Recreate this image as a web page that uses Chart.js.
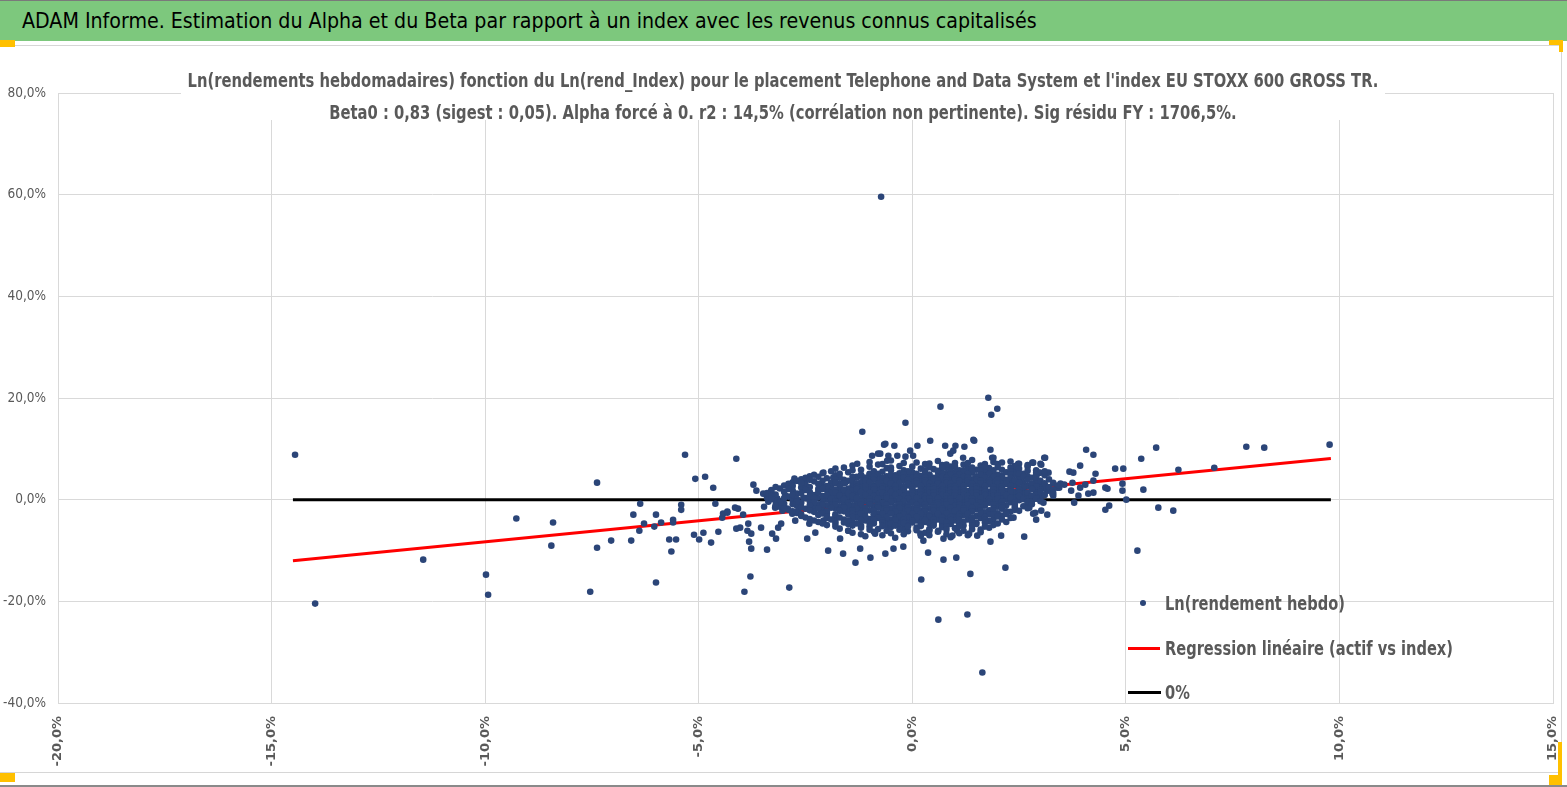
<!DOCTYPE html>
<html>
<head>
<meta charset="utf-8">
<script src="https://cdn.jsdelivr.net/npm/chart.js@4.4.1/dist/chart.umd.min.js"></script>
<style>
  html, body { margin:0; padding:0; background:#ffffff; width:1567px; height:787px; overflow:hidden; }
  body { position:relative; font-family:'DejaVu Sans Condensed','Liberation Sans Narrow','Liberation Sans',sans-serif; }
  #header { position:absolute; left:0; top:0; width:1567px; height:40px; background:#7DC87D; border-top:1px solid #7a7a7a; z-index:3; }
  #header span { position:absolute; left:22px; top:7px; font-size:21.2px; color:#000; white-space:nowrap; }
  #frame { position:absolute; left:0; top:45px; width:1561px; height:726px; border-top:1px solid #d6d6d6; border-right:1px solid #d6d6d6; border-bottom:1px solid #d6d6d6; z-index:0; }
  #bottomline { position:absolute; left:0; top:785px; width:1567px; height:2px; background:#8a8a8a; }
  .handle { position:absolute; background:#FFC000; z-index:4; }
  #chartTitle { position:absolute; left:181px; top:64px; width:1204px; height:56px; background:#fff; z-index:2; color:#595959; font-size:19px; font-weight:bold; line-height:32px; white-space:nowrap; }
  #chartTitle div { position:absolute; left:-100px; width:1404px; height:32px; text-align:center; transform:scaleX(0.863); transform-origin:center; }
  #c { position:absolute; left:0; top:0; z-index:1; }
  .lg { position:absolute; z-index:2; color:#595959; font-size:19px; font-weight:bold; white-space:nowrap; line-height:24px; transform:scaleX(0.855); transform-origin:left center; }
  .lgline { position:absolute; z-index:2; height:3px; }
  .lgdot { position:absolute; z-index:2; width:6px; height:6px; border-radius:50%; background:#2B4578; }
</style>
</head>
<body>
<div id="header"><span>ADAM Informe. Estimation du Alpha et du Beta par rapport à un index avec les revenus connus capitalisés</span></div>
<div id="frame"></div>
<div id="bottomline"></div>
<div class="handle" style="left:0;top:40px;width:15px;height:7px;"></div>
<div class="handle" style="left:1549px;top:40px;width:14px;height:5px;"></div>
<div class="handle" style="left:1559px;top:40px;width:4px;height:12px;"></div>
<div class="handle" style="left:0;top:773px;width:15px;height:9px;"></div>
<div class="handle" style="left:1558px;top:742px;width:4px;height:43px;"></div>
<div class="handle" style="left:1549px;top:775px;width:13px;height:10px;"></div>
<canvas id="c" width="1567" height="787"></canvas>
<div id="chartTitle">
  <div style="top:0;">Ln(rendements hebdomadaires) fonction du Ln(rend_Index) pour le placement Telephone and Data System et l'index EU STOXX 600 GROSS TR.</div>
  <div style="top:32px;">Beta0 : 0,83 (sigest : 0,05). Alpha forcé à 0. r2 : 14,5% (corrélation non pertinente). Sig résidu FY : 1706,5%.</div>
</div>
<div class="lgdot" style="left:1140px;top:600px;"></div>
<div class="lg" style="left:1165px;top:591px;">Ln(rendement hebdo)</div>
<div class="lgline" style="left:1128px;top:647px;width:32px;background:#FF0000;"></div>
<div class="lg" style="left:1165px;top:636px;">Regression linéaire (actif vs index)</div>
<div class="lgline" style="left:1128px;top:691px;width:33px;background:#000000;"></div>
<div class="lg" style="left:1165px;top:680px;">0%</div>
<script>
// Tick values (percent)
const xTicks = [-20, -15, -10, -5, 0, 5, 10, 15];
const yTicks = [-40, -20, 0, 20, 40, 60, 80];

// Series labels
const seriesNames = ['Ln(rendement hebdo)', 'Regression linéaire (actif vs index)', '0%'];

// Regression line endpoints (index %, asset %)
const regressionLine = [[-14.5, -12.0], [9.8, 8.1]];
// Zero line endpoints
const zeroLine = [[-14.5, 0], [9.8, 0]];

// Weekly log returns [index %, asset %] – scattered points
const outerPoints = [
[-14.45,8.85],[-13.98,-20.45],[-11.45,-11.8],[-9.98,-14.75],[-9.93,-18.7],[-9.27,-3.7],[-8.41,-4.5],[-8.45,-9.05],
[-7.54,-18.1],[-7.38,3.35],[-7.38,-9.45],[-7.05,-8.05],[-6.58,-8.05],[-6.53,-2.95],[-6.37,-0.8],[-6.39,-6.1],
[-6.28,-4.7],[-6.0,-2.95],[-6.04,-5.3],[-6.0,-16.3],[-5.88,-4.5],[-5.69,-7.85],[-5.64,-10.2],[-5.6,-3.95],
[-5.6,-4.5],[-5.53,-7.85],[-5.41,-1.0],[-5.41,-2.0],[-5.32,8.85],[-5.08,4.1],[-4.85,4.5],[-4.66,2.35],
[-4.61,-0.8],[-5.11,-6.9],[-4.99,-7.85],[-4.89,-6.5],[-4.71,-8.45],[-4.54,-6.3],[-4.45,-3.55],[-4.43,-2.75],
[-4.33,-2.55],[-4.12,8.06],[-4.33,-2.36],[-4.15,-1.57],[-4.08,-1.77],[-3.96,-2.95],[-4.12,-5.7],[-4.03,-5.5],
[-3.86,-6.1],[-3.84,-4.72],[-3.77,-6.69],[-3.82,-8.26],[-3.77,-9.64],[-3.72,2.95],[-3.65,1.77],[-3.54,-5.5],
[-3.49,1.18],[-3.47,-1.38],[-3.4,-9.83],[-3.37,-0.39],[-3.28,-6.69],[-3.21,-1.57],[-3.19,-7.67],[-3.16,0.2],
[-3.14,-5.5],[-3.07,-4.72],[-3.04,-2.16],[-2.97,0.79],[-2.93,-1.77],[-2.81,-2.75],[-2.76,4.13],[-2.74,-4.13],
[-2.69,-0.59],[-2.67,-2.16],[-2.58,2.75],[-2.55,0.39],[-2.53,3.54],[-2.46,-7.67],[-2.41,-4.72],[-2.32,-1.57],
[-2.27,-6.49],[-2.22,0.39],[-2.15,-2.16],[-2.08,5.31],[-2.08,-4.13],[-1.97,-10.03],[-1.92,0.39],[-1.85,4.33],
[-1.8,-4.72],[-1.69,-7.67],[-1.62,-10.62],[-1.57,3.34],[-1.5,-6.1],[-1.38,1.77],[-1.33,-12.39],[-1.29,7.08],
[-1.22,-9.64],[-1.17,13.37],[-1.15,4.33],[-0.98,-11.41],[-0.94,8.65],[-0.87,-6.69],[-0.8,9.05],[-0.66,10.82],
[-0.63,-10.62],[-0.59,7.67],[-0.44,-9.64],[-0.42,10.62],[-0.35,8.65],[-0.21,-9.24],[-0.16,8.46],[-0.16,15.14],
[-0.05,9.64],[0.02,8.65],[0.12,10.62],[0.19,-6.69],[0.26,-8.06],[0.37,-10.42],[0.42,11.6],[0.61,-6.1],
[0.73,-7.67],[0.73,-11.8],[0.77,10.62],[0.89,9.05],[0.94,-7.08],[1.01,10.62],[1.03,-11.41],[1.05,-6.1],
[1.19,8.26],[1.33,-6.69],[1.43,11.8],[1.52,-7.08],[1.83,9.83],[1.83,-8.26],[1.87,8.26],[2.08,-7.08],
[2.18,-13.37],[2.37,-3.54],[2.48,7.08],[2.62,-7.28],[2.81,7.28],[2.88,-2.56],[2.93,5.11],
[-0.73,59.6],[1.78,20.06],[1.85,16.7],[1.99,17.9],[0.66,18.3],[0.61,-23.6],[1.29,-22.6],[1.64,-34.0],
[0.21,-15.7],[1.36,-14.6],[-2.88,-17.3],[-3.93,-18.1],[-3.79,-15.1],
[1.45,11.6],[3.09,8.26],[3.0,7.08],[2.5,7.08],[2.39,5.9],[1.9,8.26],[1.22,10.4],[0.96,9.64],[-0.63,11.0],
[-0.75,9.05],[-0.56,8.65],
[4.07,9.83],[4.24,8.85],[3.93,6.69],[3.68,5.51],[3.77,5.31],[4.29,5.11],[4.75,6.1],[4.94,6.1],[5.36,8.06],
[5.71,10.23],[6.23,5.9],[7.07,6.29],[7.82,10.42],[8.24,10.23],[9.77,10.82],[5.41,1.97],[5.76,-1.57],[6.11,-2.16],
[5.27,-10.03],[5.01,0.0],[4.92,1.77],[4.92,3.15],[4.52,2.36],[4.57,2.16],[4.61,-1.18],[4.52,-1.97],[4.24,3.74],
[4.24,1.38],[4.12,1.18],[4.05,2.95],[3.93,2.36],[3.89,0.79],[3.79,-0.59],[3.75,3.34],[3.72,1.77],[3.56,2.95],
[3.47,3.15],[3.4,2.36],[3.3,0.79],[3.16,-2.95],[3.19,5.31],[3.11,8.26],[3.02,6.88],[2.97,5.31],[2.9,5.31],
[2.83,7.28],[3.02,-2.16],[2.9,-3.93],[2.83,-2.75],[2.74,-1.57],[3.07,-0.59],[3.16,1.77],[3.28,1.18],[3.44,2.36],
[2.83,2.16]
];

// Dense central cloud of weekly returns [index %, asset %] (first layer)
const corePointsA = [
[-1.0,7.4],[-0.5,7.7],[0.1,7.3],[0.6,7.6],[1.0,7.2],[1.4,7.8],[1.9,7.4],[2.3,7.5],
[-1.4,6.7],[-0.8,6.9],[-0.3,6.6],[0.3,7.0],[0.7,6.8],[0.9,6.5],[1.2,6.9],[1.6,6.7],[2.0,7.0],[2.4,6.6],[2.7,6.8],
[-1.8,6.1],[-1.2,5.9],[-0.6,6.2],[-0.2,5.8],[0.2,6.1],[0.5,6.0],[0.8,6.3],[1.1,5.8],[1.3,6.1],[1.5,5.9],[1.8,6.2],[2.1,5.9],[2.5,6.1],[2.9,5.8],
[-2.1,5.2],[-1.5,5.4],[-1.0,5.1],[-0.7,5.5],[-0.3,5.2],[0.0,5.4],[0.3,5.1],[0.6,5.5],[0.8,5.2],[1.0,5.4],[1.2,5.1],[1.4,5.3],[1.7,5.5],[1.9,5.2],[2.2,5.4],[2.6,5.1],[3.0,5.3],
[-2.4,4.6],[-1.8,4.8],[-1.3,4.5],[-1.0,4.9],[-0.6,4.6],[-0.4,4.8],[-0.1,4.5],[0.2,4.7],[0.4,4.9],[0.6,4.6],[0.8,4.8],[1.0,4.5],[1.1,4.9],[1.3,4.7],[1.5,4.6],[1.7,4.8],[1.9,4.5],[2.1,4.7],[2.4,4.9],[2.7,4.6],[3.1,4.8],
[-2.6,4.0],[-2.0,4.2],[-1.6,3.9],[-1.3,4.3],[-1.0,4.0],[-0.8,4.2],[-0.5,3.9],[-0.3,4.1],[0.0,4.3],[0.2,4.0],[0.4,4.2],[0.6,3.9],[0.7,4.3],[0.9,4.1],[1.1,3.9],[1.2,4.2],[1.4,4.0],[1.6,4.3],[1.8,4.0],[2.0,4.2],[2.2,3.9],[2.5,4.1],[2.8,4.3],[3.2,4.0],
[-2.8,3.4],[-2.3,3.6],[-1.9,3.3],[-1.5,3.7],[-1.2,3.4],[-1.0,3.6],[-0.7,3.3],[-0.5,3.5],[-0.2,3.7],[0.0,3.4],[0.2,3.6],[0.4,3.3],[0.5,3.7],[0.7,3.5],[0.9,3.4],[1.0,3.6],[1.2,3.3],[1.4,3.7],[1.5,3.4],[1.7,3.6],[1.9,3.3],[2.1,3.5],[2.3,3.7],[2.6,3.4],[2.9,3.6],[3.3,3.3],
[-3.0,2.8],[-2.5,3.0],[-2.1,2.7],[-1.7,3.1],[-1.4,2.8],[-1.1,3.0],[-0.9,2.7],[-0.6,2.9],[-0.4,3.1],[-0.1,2.8],[0.1,3.0],[0.3,2.7],[0.5,3.1],[0.6,2.9],[0.8,2.8],[1.0,3.0],[1.1,2.7],[1.3,3.1],[1.5,2.9],[1.6,2.7],[1.8,3.0],[2.0,2.8],[2.2,3.1],[2.4,2.9],[2.7,2.7],[3.0,3.0],[3.4,2.8],
[-3.1,2.2],[-2.6,2.4],[-2.2,2.1],[-1.9,2.5],[-1.5,2.2],[-1.2,2.4],[-1.0,2.1],[-0.8,2.3],[-0.5,2.5],[-0.3,2.2],[0.0,2.4],[0.2,2.1],[0.4,2.5],[0.6,2.3],[0.7,2.1],[0.9,2.4],[1.1,2.2],[1.2,2.5],[1.4,2.3],[1.6,2.1],[1.7,2.4],[1.9,2.2],[2.1,2.5],[2.3,2.3],[2.5,2.1],[2.8,2.4],[3.1,2.2],
[-3.3,1.6],[-2.8,1.8],[-2.4,1.5],[-2.0,1.9],[-1.7,1.6],[-1.4,1.8],[-1.1,1.5],[-0.9,1.7],[-0.6,1.9],[-0.4,1.6],[-0.2,1.8],[0.1,1.5],[0.3,1.9],[0.5,1.7],[0.6,1.5],[0.8,1.8],[1.0,1.6],[1.1,1.9],[1.3,1.7],[1.5,1.5],[1.6,1.8],[1.8,1.6],[2.0,1.9],[2.2,1.7],[2.4,1.5],[2.6,1.8],[2.9,1.6],[3.2,1.8],
[-3.2,1.0],[-2.7,1.2],[-2.3,0.9],[-1.9,1.3],[-1.6,1.0],[-1.3,1.2],[-1.0,0.9],[-0.8,1.1],[-0.5,1.3],[-0.3,1.0],[-0.1,1.2],[0.1,0.9],[0.3,1.3],[0.4,1.1],[0.6,0.9],[0.8,1.2],[0.9,1.0],[1.1,1.3],[1.3,1.1],[1.4,0.9],[1.6,1.2],[1.8,1.0],[2.0,1.3],[2.1,1.1],[2.3,0.9],[2.6,1.2],[2.9,1.0],
[-3.4,0.4],[-2.9,0.6],[-2.5,0.3],[-2.1,0.7],[-1.8,0.4],[-1.5,0.6],[-1.2,0.3],[-0.9,0.5],[-0.7,0.7],[-0.5,0.4],[-0.2,0.6],[0.0,0.3],[0.2,0.7],[0.4,0.5],[0.5,0.3],[0.7,0.6],[0.9,0.4],[1.0,0.7],[1.2,0.5],[1.4,0.3],[1.5,0.6],[1.7,0.4],[1.9,0.7],[2.1,0.5],[2.4,0.3],[2.7,0.6],[3.0,0.4],
[-3.2,-0.2],[-2.8,0.0],[-2.4,-0.3],[-2.0,0.1],[-1.7,-0.2],[-1.4,0.0],[-1.1,-0.3],[-0.9,-0.1],[-0.6,0.1],[-0.4,-0.2],[-0.1,0.0],[0.1,-0.3],[0.3,0.1],[0.5,-0.1],[0.7,-0.3],[0.8,0.0],[1.0,-0.2],[1.2,0.1],[1.3,-0.1],[1.5,-0.3],[1.7,0.0],[1.9,-0.2],[2.2,0.1],[2.5,-0.1],[2.8,-0.3],
[-3.0,-0.8],[-2.6,-0.6],[-2.2,-0.9],[-1.9,-0.5],[-1.6,-0.8],[-1.3,-0.6],[-1.0,-0.9],[-0.8,-0.7],[-0.5,-0.5],[-0.3,-0.8],[0.0,-0.6],[0.2,-0.9],[0.4,-0.5],[0.5,-0.7],[0.7,-0.9],[0.9,-0.6],[1.1,-0.8],[1.2,-0.5],[1.4,-0.7],[1.6,-0.9],[1.8,-0.6],[2.0,-0.8],[2.3,-0.5],[2.7,-0.7],
[-3.1,-1.4],[-2.7,-1.2],[-2.3,-1.5],[-2.0,-1.1],[-1.7,-1.4],[-1.4,-1.2],[-1.2,-1.5],[-0.9,-1.3],[-0.7,-1.1],[-0.4,-1.4],[-0.2,-1.2],[0.1,-1.5],[0.3,-1.1],[0.5,-1.3],[0.6,-1.5],[0.8,-1.2],[1.0,-1.4],[1.2,-1.1],[1.3,-1.3],[1.5,-1.5],[1.7,-1.2],[2.0,-1.4],[2.2,-1.1],[2.6,-1.3],
[-2.9,-2.0],[-2.5,-1.8],[-2.1,-2.1],[-1.8,-1.7],[-1.5,-2.0],[-1.2,-1.8],[-1.0,-2.1],[-0.7,-1.9],[-0.5,-1.7],[-0.2,-2.0],[0.0,-1.8],[0.2,-2.1],[0.4,-1.7],[0.6,-1.9],[0.8,-2.1],[0.9,-1.8],[1.1,-2.0],[1.3,-1.7],[1.5,-1.9],[1.8,-2.1],[2.1,-1.8],[2.4,-2.0],
[-2.7,-2.6],[-2.3,-2.4],[-2.0,-2.7],[-1.6,-2.3],[-1.3,-2.6],[-1.1,-2.4],[-0.8,-2.7],[-0.6,-2.5],[-0.3,-2.3],[-0.1,-2.6],[0.1,-2.4],[0.3,-2.7],[0.5,-2.3],[0.7,-2.5],[0.9,-2.7],[1.0,-2.4],[1.2,-2.6],[1.4,-2.3],[1.7,-2.5],[2.0,-2.7],[2.3,-2.4],
[-2.6,-3.2],[-2.2,-3.0],[-1.8,-3.3],[-1.5,-2.9],[-1.2,-3.2],[-0.9,-3.0],[-0.7,-3.3],[-0.4,-3.1],[-0.2,-2.9],[0.0,-3.2],[0.3,-3.0],[0.5,-3.3],[0.6,-2.9],[0.8,-3.1],[1.0,-3.3],[1.2,-3.0],[1.5,-3.2],[1.8,-2.9],[2.1,-3.1],
[-2.4,-3.8],[-2.0,-3.6],[-1.6,-3.9],[-1.3,-3.5],[-1.0,-3.8],[-0.8,-3.6],[-0.5,-3.9],[-0.3,-3.7],[-0.1,-3.5],[0.2,-3.8],[0.4,-3.6],[0.6,-3.9],[0.8,-3.5],[1.0,-3.7],[1.3,-3.9],[1.6,-3.6],[1.9,-3.8],[2.3,-3.6],
[-2.2,-4.4],[-1.8,-4.2],[-1.4,-4.5],[-1.1,-4.1],[-0.9,-4.4],[-0.6,-4.2],[-0.4,-4.5],[-0.1,-4.3],[0.1,-4.1],[0.3,-4.4],[0.5,-4.2],[0.7,-4.5],[1.0,-4.1],[1.2,-4.3],[1.5,-4.5],[1.8,-4.2],[2.2,-4.4],
[-2.0,-5.0],[-1.5,-4.8],[-1.2,-5.1],[-0.9,-4.7],[-0.6,-5.0],[-0.3,-4.8],[-0.1,-5.1],[0.2,-4.9],[0.4,-4.7],[0.7,-5.0],[0.9,-4.8],[1.2,-5.1],[1.5,-4.8],[1.9,-5.0],
[-1.7,-5.7],[-1.2,-5.5],[-0.8,-5.8],[-0.5,-5.4],[-0.2,-5.7],[0.1,-5.5],[0.4,-5.8],[0.7,-5.4],[1.0,-5.6],[1.4,-5.8],[1.8,-5.5],
[-1.4,-6.5],[-0.9,-6.3],[-0.5,-6.6],[-0.1,-6.2],[0.3,-6.5],[0.6,-6.3],[1.1,-6.6],[1.6,-6.4],
[-1.1,-7.2],[-0.4,-7.5],[0.2,-7.1],[0.9,-7.4]
];

// Dense central cloud (second layer, in between the first)
const corePointsB = [
[-0.7,7.0],[-0.2,7.2],[0.4,7.1],[0.8,6.9],[1.3,7.2],[1.7,7.0],[2.1,7.3],
[-1.6,6.3],[-1.0,6.5],[-0.5,6.3],[0.0,6.5],[0.4,6.4],[0.7,6.2],[1.0,6.5],[1.4,6.3],[1.7,6.5],[2.0,6.4],[2.3,6.3],[2.7,6.5],
[-1.9,5.6],[-1.4,5.8],[-0.9,5.6],[-0.5,5.8],[-0.1,5.6],[0.3,5.8],[0.6,5.7],[0.9,5.6],[1.2,5.8],[1.4,5.6],[1.6,5.7],[1.9,5.8],[2.3,5.6],[2.7,5.7],[3.1,5.6],
[-2.3,4.9],[-1.7,5.1],[-1.2,4.9],[-0.8,5.1],[-0.5,4.9],[-0.2,5.0],[0.1,5.1],[0.4,4.9],[0.7,5.1],[0.9,4.9],[1.1,5.0],[1.3,5.1],[1.6,4.9],[1.8,5.1],[2.0,4.9],[2.3,5.0],[2.5,5.1],[2.9,4.9],
[-2.5,4.3],[-2.2,4.5],[-1.7,4.3],[-1.4,4.5],[-1.1,4.3],[-0.9,4.5],[-0.7,4.3],[-0.4,4.4],[-0.2,4.3],[0.1,4.5],[0.3,4.4],[0.5,4.3],[0.7,4.5],[0.8,4.3],[1.0,4.4],[1.2,4.5],[1.3,4.3],[1.5,4.4],[1.7,4.3],[1.9,4.5],[2.1,4.4],[2.3,4.3],[2.6,4.5],[2.9,4.4],
[-2.7,3.7],[-2.4,3.9],[-2.1,3.7],[-1.8,3.9],[-1.4,3.8],[-1.1,3.7],[-0.9,3.9],[-0.6,3.7],[-0.4,3.8],[-0.1,3.9],[0.1,3.7],[0.3,3.8],[0.5,3.9],[0.6,3.7],[0.8,3.8],[1.0,3.9],[1.1,3.7],[1.3,3.8],[1.5,3.9],[1.6,3.7],[1.8,3.8],[2.0,3.9],[2.2,3.7],[2.4,3.8],[2.7,3.9],[3.0,3.7],
[-2.9,3.1],[-2.6,3.3],[-2.2,3.1],[-1.8,3.3],[-1.6,3.2],[-1.3,3.1],[-1.0,3.3],[-0.8,3.1],[-0.5,3.2],[-0.3,3.3],[-0.1,3.1],[0.1,3.2],[0.3,3.3],[0.4,3.1],[0.6,3.2],[0.8,3.3],[0.9,3.1],[1.1,3.2],[1.3,3.3],[1.4,3.1],[1.6,3.2],[1.8,3.3],[2.0,3.1],[2.2,3.2],[2.5,3.3],[2.8,3.1],[3.1,3.2],
[-3.2,2.5],[-2.8,2.7],[-2.4,2.5],[-2.0,2.7],[-1.7,2.6],[-1.3,2.5],[-1.1,2.7],[-0.9,2.5],[-0.7,2.6],[-0.4,2.7],[-0.2,2.5],[0.0,2.6],[0.2,2.7],[0.4,2.5],[0.5,2.6],[0.7,2.7],[0.9,2.5],[1.0,2.6],[1.2,2.7],[1.4,2.5],[1.5,2.6],[1.7,2.7],[1.9,2.5],[2.1,2.6],[2.3,2.7],[2.6,2.5],[2.9,2.6],[3.2,2.5],
[-3.3,1.9],[-2.9,2.1],[-2.5,1.9],[-2.1,2.1],[-1.8,2.0],[-1.6,1.9],[-1.3,2.1],[-1.1,1.9],[-0.9,2.0],[-0.7,2.1],[-0.4,1.9],[-0.2,2.0],[0.0,2.1],[0.2,1.9],[0.4,2.0],[0.5,2.1],[0.7,1.9],[0.9,2.0],[1.0,2.1],[1.2,1.9],[1.4,2.0],[1.5,2.1],[1.7,1.9],[1.9,2.0],[2.1,2.1],[2.3,1.9],[2.5,2.0],[2.8,2.1],[3.0,1.9],[3.3,2.0],
[-3.4,1.3],[-3.0,1.5],[-2.6,1.3],[-2.2,1.5],[-1.8,1.4],[-1.5,1.3],[-1.2,1.5],[-1.0,1.3],[-0.7,1.4],[-0.5,1.5],[-0.3,1.3],[0.0,1.4],[0.2,1.5],[0.4,1.3],[0.5,1.4],[0.7,1.5],[0.9,1.3],[1.0,1.4],[1.2,1.5],[1.4,1.3],[1.5,1.4],[1.7,1.5],[1.9,1.3],[2.1,1.4],[2.3,1.5],[2.5,1.3],[2.7,1.4],[3.0,1.5],[3.3,1.3],
[-3.3,0.7],[-2.8,0.9],[-2.4,0.7],[-2.0,0.9],[-1.7,0.8],[-1.4,0.7],[-1.1,0.9],[-0.9,0.7],[-0.6,0.8],[-0.4,0.9],[-0.2,0.7],[0.0,0.8],[0.2,0.9],[0.3,0.7],[0.5,0.8],[0.7,0.9],[0.8,0.7],[1.0,0.8],[1.2,0.9],[1.3,0.7],[1.5,0.8],[1.7,0.9],[1.9,0.7],[2.0,0.8],[2.2,0.9],[2.5,0.7],[2.8,0.8],[3.1,0.9],
[-3.3,0.1],[-3.0,0.3],[-2.7,0.1],[-2.3,0.3],[-1.9,0.2],[-1.6,0.1],[-1.3,0.3],[-1.0,0.1],[-0.8,0.2],[-0.6,0.3],[-0.3,0.1],[-0.1,0.2],[0.1,0.3],[0.3,0.1],[0.4,0.2],[0.6,0.3],[0.8,0.1],[0.9,0.2],[1.1,0.3],[1.3,0.1],[1.4,0.2],[1.6,0.3],[1.8,0.1],[2.0,0.2],[2.3,0.3],[2.6,0.1],[2.9,0.2],
[-3.1,-0.5],[-2.7,-0.3],[-2.3,-0.5],[-2.1,-0.4],[-1.8,-0.3],[-1.5,-0.5],[-1.2,-0.4],[-1.0,-0.3],[-0.7,-0.5],[-0.5,-0.4],[-0.2,-0.3],[0.0,-0.5],[0.2,-0.4],[0.4,-0.3],[0.6,-0.5],[0.8,-0.4],[0.9,-0.3],[1.1,-0.5],[1.3,-0.4],[1.4,-0.3],[1.6,-0.5],[1.8,-0.4],[2.1,-0.3],[2.4,-0.5],[2.7,-0.4],[3.0,-0.3],
[-3.2,-1.1],[-2.8,-0.9],[-2.4,-1.1],[-2.1,-1.0],[-1.8,-0.9],[-1.5,-1.1],[-1.2,-1.0],[-1.0,-0.9],[-0.8,-1.1],[-0.6,-1.0],[-0.3,-0.9],[-0.1,-1.1],[0.1,-1.0],[0.3,-0.9],[0.5,-1.1],[0.6,-1.0],[0.8,-0.9],[1.0,-1.1],[1.1,-1.0],[1.3,-0.9],[1.5,-1.1],[1.7,-1.0],[1.9,-0.9],[2.1,-1.1],[2.4,-1.0],[2.8,-0.9],
[-3.0,-1.7],[-2.6,-1.5],[-2.2,-1.7],[-1.9,-1.6],[-1.6,-1.5],[-1.3,-1.7],[-1.1,-1.6],[-0.8,-1.5],[-0.6,-1.7],[-0.3,-1.6],[-0.1,-1.5],[0.1,-1.7],[0.3,-1.6],[0.5,-1.5],[0.7,-1.7],[0.9,-1.6],[1.1,-1.5],[1.2,-1.7],[1.4,-1.6],[1.6,-1.5],[1.9,-1.7],[2.1,-1.6],[2.4,-1.5],[2.7,-1.7],
[-2.8,-2.3],[-2.4,-2.1],[-2.0,-2.3],[-1.7,-2.2],[-1.4,-2.1],[-1.1,-2.3],[-0.9,-2.2],[-0.6,-2.1],[-0.4,-2.3],[-0.1,-2.2],[0.1,-2.1],[0.3,-2.3],[0.5,-2.2],[0.7,-2.1],[0.9,-2.3],[1.0,-2.2],[1.2,-2.1],[1.4,-2.3],[1.6,-2.2],[1.9,-2.1],[2.2,-2.3],[2.5,-2.2],
[-2.6,-2.9],[-2.1,-2.7],[-1.8,-2.9],[-1.4,-2.8],[-1.2,-2.7],[-0.9,-2.9],[-0.7,-2.8],[-0.5,-2.7],[-0.2,-2.9],[0.0,-2.8],[0.2,-2.7],[0.4,-2.9],[0.6,-2.8],[0.8,-2.7],[1.1,-2.9],[1.3,-2.8],[1.6,-2.7],[1.9,-2.9],[2.2,-2.8],
[-2.5,-3.5],[-2.0,-3.3],[-1.7,-3.5],[-1.4,-3.4],[-1.1,-3.3],[-0.8,-3.5],[-0.6,-3.4],[-0.3,-3.3],[-0.1,-3.5],[0.1,-3.4],[0.4,-3.3],[0.7,-3.5],[0.9,-3.4],[1.1,-3.3],[1.4,-3.5],[1.7,-3.4],[2.0,-3.3],
[-2.3,-4.1],[-1.9,-3.9],[-1.5,-4.1],[-1.2,-4.0],[-0.9,-3.9],[-0.7,-4.1],[-0.4,-4.0],[-0.2,-3.9],[0.0,-4.1],[0.3,-4.0],[0.5,-3.9],[0.7,-4.1],[0.9,-4.0],[1.1,-3.9],[1.4,-4.1],[1.7,-4.0],[2.1,-3.9],
[-2.1,-4.7],[-1.6,-4.5],[-1.3,-4.7],[-1.0,-4.6],[-0.7,-4.5],[-0.5,-4.7],[-0.2,-4.6],[0.0,-4.5],[0.2,-4.7],[0.5,-4.6],[0.8,-4.5],[1.1,-4.7],[1.4,-4.6],[1.7,-4.5],[2.0,-4.7],
[-1.8,-5.3],[-1.4,-5.1],[-1.0,-5.3],[-0.7,-5.2],[-0.4,-5.1],[-0.1,-5.3],[0.2,-5.2],[0.5,-5.1],[0.8,-5.3],[1.1,-5.2],[1.4,-5.1],[1.7,-5.3],
[-1.5,-6.1],[-1.0,-5.9],[-0.6,-6.1],[-0.3,-5.9],[0.1,-6.0],[0.4,-6.1],[0.8,-5.9],[1.2,-6.1],[1.6,-5.9],
[-1.2,-6.8],[-0.7,-7.0],[-0.2,-6.8],[0.4,-7.0],[0.8,-6.8],[1.3,-7.0]
];

const toXY = arr => arr.map(p => ({ x: p[0], y: p[1] }));
const fmt = v => v.toFixed(1).replace('.', ',') + '%';

new Chart(document.getElementById('c'), {
  type: 'scatter',
  data: {
    datasets: [
      {
        label: seriesNames[0],
        data: toXY(outerPoints.concat(corePointsA, corePointsB)),
        backgroundColor: '#2B4578',
        borderWidth: 0,
        pointRadius: 3.3,
        pointHoverRadius: 3.3,
        order: 0
      },
      {
        label: seriesNames[1],
        data: toXY(regressionLine),
        showLine: true,
        borderColor: '#FF0000',
        borderWidth: 3,
        pointRadius: 0,
        order: 1
      },
      {
        label: seriesNames[2],
        data: toXY(zeroLine),
        showLine: true,
        borderColor: '#000000',
        borderWidth: 3,
        pointRadius: 0,
        order: 2
      }
    ]
  },
  options: {
    responsive: false,
    animation: false,
    devicePixelRatio: 1,
    layout: { padding: { top: 93, right: 14, bottom: 14, left: 0 } },
    plugins: { legend: { display: false }, title: { display: false }, tooltip: { enabled: false } },
    scales: {
      x: {
        type: 'linear',
        min: -20, max: 15,
        afterBuildTicks: s => { s.ticks = xTicks.map(v => ({ value: v })); },
        afterFit: s => { s.height = 70; s.paddingLeft = 0; s.paddingRight = 0; },
        grid: { color: '#d9d9d9', drawTicks: false },
        border: { color: '#d9d9d9' },
        ticks: {
          minRotation: 90, maxRotation: 90, padding: 13,
          color: '#595959',
          font: { family: "'DejaVu Sans', sans-serif", size: 13, weight: 'bold' },
          callback: v => fmt(v)
        }
      },
      y: {
        type: 'linear',
        min: -40, max: 80,
        afterBuildTicks: s => { s.ticks = yTicks.map(v => ({ value: v })); },
        afterFit: s => { s.width = 58; s.paddingTop = 0; s.paddingBottom = 0; },
        grid: { color: '#d9d9d9', drawTicks: false },
        border: { color: '#d9d9d9' },
        ticks: {
          padding: 12,
          color: '#595959',
          font: { family: "'DejaVu Sans Condensed','Liberation Sans Narrow',sans-serif", size: 13.5 },
          callback: v => fmt(v)
        }
      }
    }
  }
});
</script>
</body>
</html>
